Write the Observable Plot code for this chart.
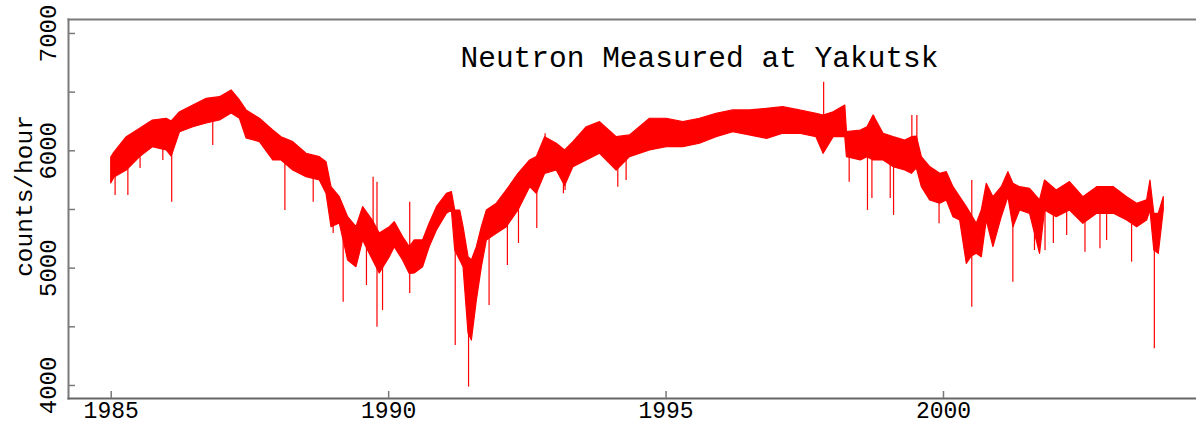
<!DOCTYPE html>
<html>
<head>
<meta charset="utf-8">
<script src="https://cdn.jsdelivr.net/npm/d3@7"></script>
<script src="https://cdn.jsdelivr.net/npm/@observablehq/plot@0.6"></script>
<style>
  body { margin: 0; background: #fff; }
  #chart svg { display: block; }
</style>
</head>
<body>
<div id="chart"></div>
<script>
// Hourly neutron monitor counts at Yakutsk, 1985–2004, summarised as the
// spread of the hourly values (low / high) through time, plus isolated
// short excursions (Forbush decreases and brief upward spikes).
const bandYears = [
  1985.00, 1985.06, 1985.28, 1985.52, 1985.75, 1986.00, 1986.09, 1986.24, 1986.48, 1986.72,
  1986.96, 1987.17, 1987.32, 1987.44, 1987.68, 1987.92, 1988.07, 1988.28, 1988.52, 1988.76,
  1988.88, 1988.97, 1989.12, 1989.27, 1989.42, 1989.54, 1989.72, 1989.84, 1990.02, 1990.11,
  1990.26, 1990.38, 1990.47, 1990.62, 1990.74, 1990.87, 1991.05, 1991.14, 1991.20, 1991.29,
  1991.35, 1991.44, 1991.50, 1991.59, 1991.68, 1991.77, 1991.95, 1992.13, 1992.34, 1992.55,
  1992.67, 1992.82, 1993.03, 1993.18, 1993.33, 1993.57, 1993.81, 1994.11, 1994.35, 1994.71,
  1995.01, 1995.31, 1995.61, 1995.91, 1996.21, 1996.51, 1996.82, 1997.11, 1997.41, 1997.71,
  1997.84, 1998.02, 1998.23, 1998.26, 1998.51, 1998.63, 1998.74, 1998.92, 1999.10, 1999.31,
  1999.43, 1999.52, 1999.61, 1999.76, 1999.94, 2000.06, 2000.18, 2000.30, 2000.42, 2000.51,
  2000.60, 2000.69, 2000.78, 2000.90, 2001.05, 2001.17, 2001.26, 2001.38, 2001.56, 2001.74,
  2001.83, 2002.04, 2002.28, 2002.52, 2002.77, 2003.07, 2003.31, 2003.49, 2003.67, 2003.73,
  2003.80, 2003.88, 2003.97
];
const bandLow = [
  5722, 5773, 5832, 5946, 6031, 6003, 5950, 6159, 6201, 6233,
  6258, 6318, 6273, 6105, 6074, 5918, 5918, 5832, 5775, 5747,
  5634, 5349, 5380, 5065, 5008, 5236, 5065, 4955, 5093, 5179,
  5065, 4950, 4955, 5008, 5179, 5321, 5463, 5491, 5150, 5065,
  5008, 4443, 4383, 4724, 5008, 5236, 5293, 5349, 5491, 5690,
  5634, 5804, 5832, 5700, 5861, 5918, 5975, 5832, 5946, 6003,
  6031, 6031, 6060, 6116, 6159, 6131, 6102, 6145, 6145, 6116,
  5975, 6116, 6116, 5946, 5918, 5946, 5918, 5918, 5861, 5832,
  5804, 5850, 5690, 5577, 5549, 5577, 5434, 5406, 5037, 5100,
  5122, 5093, 5406, 5179, 5434, 5605, 5349, 5491, 5463, 5122,
  5491, 5434, 5491, 5378, 5463, 5463, 5406, 5349, 5406, 5491,
  5150, 5122, 5491
];
const bandHigh = [
  5943, 5986, 6116, 6188, 6258, 6273, 6250, 6329, 6386, 6443,
  6457, 6514, 6429, 6344, 6273, 6173, 6116, 6074, 5975, 5946,
  5903, 5690, 5605, 5434, 5349, 5520, 5400, 5295, 5349, 5392,
  5264, 5179, 5236, 5236, 5380, 5520, 5634, 5648, 5491, 5491,
  5349, 5093, 5065, 5179, 5349, 5491, 5549, 5662, 5804, 5918,
  5946, 6116, 6060, 6003, 6074, 6201, 6244, 6116, 6131, 6273,
  6273, 6244, 6273, 6316, 6344, 6344, 6358, 6372, 6344, 6316,
  6300, 6329, 6386, 6159, 6173, 6201, 6301, 6145, 6116, 6088,
  6116, 6120, 5946, 5861, 5804, 5818, 5690, 5605, 5520, 5450,
  5378, 5491, 5719, 5605, 5690, 5818, 5719, 5690, 5676, 5577,
  5747, 5662, 5733, 5605, 5690, 5690, 5605, 5549, 5577, 5747,
  5463, 5463, 5605
];

// Short downward excursions (year, lowest hourly count)
const dipYears = [
  1985.07, 1985.30, 1985.52, 1985.93, 1986.09, 1986.83, 1988.13, 1988.64, 1989.00, 1989.18,
  1989.60, 1989.79, 1989.89, 1990.38, 1991.20, 1991.44, 1991.81, 1992.14, 1992.34, 1992.67,
  1993.15, 1993.18, 1994.13, 1994.28, 1997.83, 1998.30, 1998.63, 1998.71, 1999.04, 1999.10,
  1999.92, 2000.51, 2001.25, 2001.64, 2001.83, 2001.98, 2002.22, 2002.55, 2002.82, 2002.94,
  2003.39, 2003.80
];
const dipValues = [
  5619, 5619, 5849, 5918, 5562, 6045, 5491, 5562, 5295, 4710,
  4852, 4497, 4639, 4784, 4341, 3986, 4682, 5023, 5210, 5338,
  5634, 5662, 5690, 5747, 5975, 5733, 5491, 5594, 5594, 5449,
  5378, 4667, 4880, 5150, 5150, 5210, 5278, 5136, 5165, 5236,
  5051, 4313
];

// Short upward excursions (year, highest hourly count)
const peakYears = [1989.72, 1989.79, 1990.38, 1992.82, 1997.84, 1998.74, 1999.43, 1999.52, 2000.51];
const peakValues = [5775, 5733, 5562, 6145, 6585, 6301, 6301, 6301, 5747];

const yTicks = [4000, 5000, 6000, 7000];
const yMinorTicks = [4000, 4500, 5000, 5500, 6000, 6500, 7000];
const xTicks = [1985, 1990, 1995, 2000];

const title = "Neutron Measured at Yakutsk";
const yLabel = "counts/hour";

// Assemble mark tables
const band = bandYears.map((year, i) => ({year, lo: bandLow[i], hi: bandHigh[i]}));
const nearestMid = (year) => {
  const b = d3.least(band, (d) => Math.abs(d.year - year));
  return (b.lo + b.hi) / 2;
};
const excursions = [
  ...dipYears.map((year, i) => ({year, from: nearestMid(year), to: dipValues[i]})),
  ...peakYears.map((year, i) => ({year, from: nearestMid(year), to: peakValues[i]}))
];

const font = "'Liberation Mono', 'Courier New', monospace";
const red = "#ff0000";
const axisGrey = "#7a7a7a";

const chart = Plot.plot({
  width: 1196,
  height: 427,
  marginLeft: 68,
  marginRight: 0,
  marginTop: 19,
  marginBottom: 29,
  style: {fontFamily: font, fontSize: "24px", color: "#000", background: "#fff"},
  x: {domain: [1984.23, 2004.56]},
  y: {domain: [3889, 7119]},
  marks: [
    Plot.frame({anchor: "top", stroke: axisGrey, strokeWidth: 2}),
    Plot.frame({anchor: "left", stroke: axisGrey, strokeWidth: 2}),
    Plot.frame({anchor: "bottom", stroke: "#666", strokeWidth: 2}),
    Plot.areaY(band, {x: "year", y1: "lo", y2: "hi", fill: red, stroke: red, strokeWidth: 1.2, strokeLinejoin: "round"}),
    Plot.ruleX(excursions, {x: "year", y1: "from", y2: "to", stroke: red, strokeWidth: 1.2}),
    // y axis: inward ticks every 500, rotated labels every 1000
    Plot.axisY({ticks: yMinorTicks, tickSize: -7, tickFormat: () => "", stroke: axisGrey, strokeWidth: 1.5, label: null}),
    Plot.axisY({ticks: yTicks, tickSize: 0, tickPadding: 13, tickRotate: -90, textAnchor: "middle", lineAnchor: "bottom",
                tickFormat: (d) => String(d), fontSize: 24, fill: "#000", label: null}),
    // x axis: inward ticks with year labels below
    Plot.axisX({ticks: xTicks, tickSize: -7, tickPadding: 10, tickFormat: (d) => String(d),
                stroke: axisGrey, strokeWidth: 1.5, fontSize: 23, fill: "#000", label: null}),
    Plot.text([title], {frameAnchor: "top", dx: 67, dy: 47, lineAnchor: "bottom", textAnchor: "middle",
                        fontSize: 29.5, fontFamily: font, fill: "#000"}),
    Plot.text([yLabel], {frameAnchor: "left", dx: -44, dy: -13, rotate: -90, textAnchor: "middle", lineAnchor: "middle",
                         fontSize: 24.5, fontFamily: font, fill: "#000"})
  ]
});

document.getElementById("chart").append(chart);
</script>
</body>
</html>
